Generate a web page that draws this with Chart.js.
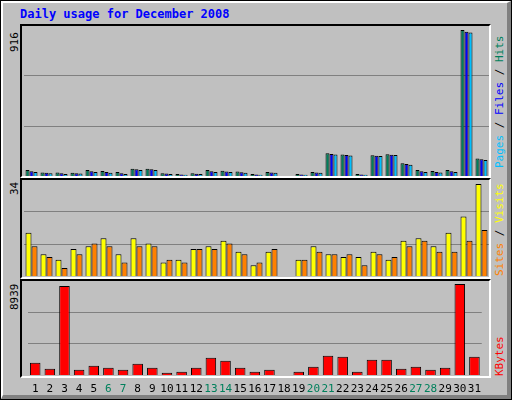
<!DOCTYPE html>
<html><head><meta charset="utf-8">
<script src="https://cdn.jsdelivr.net/npm/chart.js"></script>
<style>
body{margin:0;width:512px;height:400px;overflow:hidden;font-family:"DejaVu Sans Mono",monospace}
#frame{position:absolute;left:0;top:0;width:512px;height:400px;box-sizing:border-box;border:1px solid #000;background:#c0c0c0}
#bevel{position:absolute;left:0;top:0;width:510px;height:398px;box-sizing:border-box;border-left:2px solid #fff;border-top:2px solid #fff;border-right:4px solid #808080;border-bottom:4px solid #808080}
.panel{position:absolute;left:20px;width:471px;box-sizing:border-box;border-top:2px solid #000;border-left:2px solid #000;border-right:2px solid #fff;border-bottom:2px solid #fff}
.cv{position:absolute}
.rot{position:absolute;transform-origin:0 0;transform:rotate(-90deg);white-space:nowrap;font-size:11px}
#title{position:absolute;left:20px;top:7px;color:#0000ff;font-weight:bold;font-size:12px}
</style></head><body>
<div id="frame"><div id="bevel"></div></div>
<div id="title">Daily usage for December 2008</div>
<div class="panel" style="top:24px;height:154px"></div>
<div class="panel" style="top:178px;height:101px"></div>
<div class="panel" style="top:279px;height:99px"></div>
<div class="cv" style="left:24px;top:26px;width:465px;height:150px"><canvas id="c1"></canvas></div>
<div class="cv" style="left:24px;top:180px;width:465px;height:96px"><canvas id="c2"></canvas></div>
<div class="cv" style="left:24px;top:281px;width:465px;height:116px"><canvas id="c3"></canvas></div>
<div class="rot" style="left:8px;top:52px">916</div>
<div class="rot" style="left:8px;top:195px">34</div>
<div class="rot" style="left:8px;top:310px">8939</div>
<div class="rot" style="left:493px;top:168px"><span style="color:#00c0ff">Pages</span> / <span style="color:#0000ff">Files</span> / <span style="color:#00805c">Hits</span></div>
<div class="rot" style="left:493px;top:276px"><span style="color:#ff8000">Sites</span> / <span style="color:#ffff00">Visits</span></div>
<div class="rot" style="left:493px;top:376px"><span style="color:#ff0000">KBytes</span></div>
<script>
const days=[1,2,3,4,5,6,7,8,9,10,11,12,13,14,15,16,17,18,19,20,21,22,23,24,25,26,27,28,29,30,31].map(String);
const weekend=["6","7","13","14","20","21","27","28"];
const hits=[38,22,22,20,38,32,25,45,45,18,12,17,38,33,28,12,25,0,12,25,143,135,13,130,137,80,37,31,37,916,110];
const files=[30,20,18,17,30,25,18,42,42,15,10,14,30,28,24,10,22,0,10,22,138,132,10,127,134,75,30,25,30,905,105];
const pages=[25,18,12,15,25,20,12,38,38,12,8,12,25,25,20,8,20,0,8,20,135,128,8,125,132,70,25,22,25,900,100];
const visits=[16,8,6,10,11,14,8,14,12,5,6,10,11,13,9,4,9,0,6,11,8,7,7,9,6,13,14,11,16,22,34];
const sites=[11,7,3,8,12,11,5,11,11,6,5,10,10,12,8,5,10,0,6,9,8,8,4,8,7,11,13,9,9,13,17];
const kbytes=[1206,620,8737,520,913,717,520,1108,717,228,326,717,1695,1402,717,326,520,0,326,815,1891,1793,326,1500,1500,620,815,520,717,8939,1793];
Chart.defaults.animation=false;
function grid(max){return {display:true,min:0,max:max,border:{display:false},ticks:{display:false},
  grid:{color:'#808080',lineWidth:1,drawTicks:false},
  afterBuildTicks:s=>{s.ticks=[{value:max/3},{value:2*max/3}]},afterFit:s=>{s.width=0}};}
function ds(label,data,color,bp){return {label,data,backgroundColor:color,borderColor:'#000',borderWidth:1,categoryPercentage:0.8,barPercentage:bp};}
function mk(id,sets,max,showX){
  const x={display:showX,border:{display:false},grid:{display:false,drawTicks:false},
      ticks:{padding:8,maxRotation:0,autoSkip:false,font:{family:'DejaVu Sans Mono',size:11},
        color:c=>weekend.includes(days[c.index])?'#00805c':'#000'}};
  if(showX) x.afterFit=s=>{s.height=22};
  new Chart(document.getElementById(id),{type:'bar',data:{labels:days,datasets:sets},
  options:{responsive:true,maintainAspectRatio:false,layout:{padding:0},
    plugins:{legend:{display:false},tooltip:{enabled:false}},
    scales:{y:grid(max),x:x}}});
}
mk('c1',[ds('Hits',hits,'#00805c',1),ds('Files',files,'#0000ff',1),ds('Pages',pages,'#00c0ff',1)],941,false);
mk('c2',[ds('Visits',visits,'#ffff00',1),ds('Sites',sites,'#ff8000',1)],35.5,false);
mk('c3',[ds('KBytes',kbytes,'#ff0000',0.9)],9234,true);
</script></body></html>
